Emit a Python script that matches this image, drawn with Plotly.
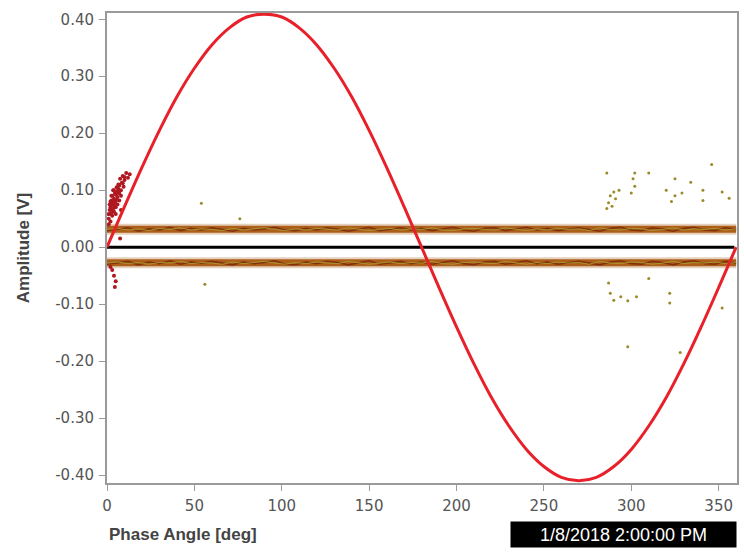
import plotly.graph_objects as go

# ---------------- data ----------------
sine_angle = [0, 10, 20, 30, 40, 50, 60, 70, 80, 90, 100, 110, 120, 130, 140, 150, 160, 170, 180,
              190, 200, 210, 220, 230, 240, 250, 260, 270, 280, 290, 300, 310, 320, 330, 340, 350, 360]
sine_amp = [0.000, 0.071, 0.140, 0.205, 0.264, 0.314, 0.355, 0.385, 0.404, 0.409, 0.404, 0.385, 0.355,
            0.314, 0.264, 0.205, 0.140, 0.071, 0.000, -0.071, -0.140, -0.205, -0.264, -0.314, -0.355,
            -0.385, -0.404, -0.410, -0.404, -0.385, -0.355, -0.314, -0.264, -0.205, -0.140, -0.071, 0.000]

band_span = [0, 360]
upper_band_level = [0.0315, 0.0315]
lower_band_level = [-0.0275, -0.0275]

band_angle = [0, 6, 12, 18, 24, 30, 36, 42, 48, 54, 60, 66, 72, 78, 84, 90, 96, 102, 108, 114,
              120, 126, 132, 138, 144, 150, 156, 162, 168, 174, 180, 186, 192, 198, 204, 210, 216,
              222, 228, 234, 240, 246, 252, 258, 264, 270, 276, 282, 288, 294, 300, 306, 312, 318,
              324, 330, 336, 342, 348, 354, 360]
upper_band_a = [0.031, 0.033, 0.030, 0.032, 0.029, 0.033, 0.031, 0.034, 0.030, 0.032,
                0.031, 0.029, 0.033, 0.030, 0.032, 0.034, 0.031, 0.029, 0.032, 0.030,
                0.033, 0.031, 0.030, 0.034, 0.032, 0.029, 0.031, 0.033, 0.030, 0.032,
                0.031, 0.034, 0.030, 0.029, 0.032, 0.033, 0.031, 0.030, 0.034, 0.031,
                0.029, 0.032, 0.030, 0.033, 0.031, 0.032, 0.029, 0.034, 0.031, 0.030,
                0.033, 0.032, 0.029, 0.031, 0.034, 0.030, 0.032, 0.031, 0.033, 0.030,
                0.032]
upper_band_b = [0.029, 0.031, 0.034, 0.028, 0.032, 0.030, 0.035, 0.029, 0.033, 0.030,
                0.034, 0.031, 0.028, 0.033, 0.030, 0.032, 0.035, 0.030, 0.029, 0.033,
                0.030, 0.034, 0.032, 0.028, 0.031, 0.035, 0.029, 0.032, 0.034, 0.030,
                0.033, 0.029, 0.032, 0.035, 0.030, 0.028, 0.033, 0.034, 0.029, 0.032,
                0.035, 0.030, 0.033, 0.029, 0.032, 0.034, 0.031, 0.028, 0.033, 0.035,
                0.030, 0.029, 0.034, 0.032, 0.028, 0.033, 0.035, 0.030, 0.029, 0.034,
                0.031]
lower_band_a = [-0.028, -0.026, -0.029, -0.027, -0.030, -0.027, -0.028, -0.025, -0.029, -0.027,
                -0.028, -0.030, -0.026, -0.029, -0.027, -0.025, -0.028, -0.030, -0.027, -0.029,
                -0.026, -0.028, -0.029, -0.025, -0.027, -0.030, -0.028, -0.026, -0.029, -0.027,
                -0.028, -0.025, -0.029, -0.030, -0.027, -0.026, -0.028, -0.029, -0.025, -0.028,
                -0.030, -0.027, -0.029, -0.026, -0.028, -0.027, -0.030, -0.025, -0.028, -0.029,
                -0.026, -0.027, -0.030, -0.028, -0.025, -0.029, -0.027, -0.028, -0.026, -0.029,
                -0.027]
lower_band_b = [-0.030, -0.027, -0.025, -0.031, -0.026, -0.029, -0.024, -0.030, -0.026, -0.028,
                -0.025, -0.028, -0.031, -0.026, -0.029, -0.027, -0.024, -0.030, -0.031, -0.026,
                -0.029, -0.025, -0.027, -0.031, -0.028, -0.024, -0.030, -0.027, -0.025, -0.029,
                -0.026, -0.030, -0.027, -0.024, -0.029, -0.031, -0.026, -0.025, -0.030, -0.027,
                -0.024, -0.029, -0.026, -0.030, -0.027, -0.025, -0.028, -0.031, -0.026, -0.024,
                -0.029, -0.030, -0.025, -0.027, -0.031, -0.026, -0.024, -0.029, -0.030, -0.025,
                -0.028]

red_angle = [1, 1.5, 2, 2, 2.5, 3, 3, 3.5, 4, 4, 4.5, 5, 5, 5.5, 6, 6, 6.5, 7, 7, 7.5, 8, 8.5, 9,
             9.5, 10, 11, 12, 13, 3, 2, 4, 8, 1, 5, 6.5, 3.5, 2.5, 7.5,
             1.5, 2.5, 3.5, 4.5, 5.5, 6.5, 2, 3, 4, 5, 6, 7, 8, 1, 9, 10,
             3, 4, 5, 4.5, 2]
red_amp = [0.050, 0.065, 0.070, 0.080, 0.060, 0.075, 0.090, 0.068, 0.085, 0.100, 0.078, 0.092,
           0.070, 0.105, 0.088, 0.075, 0.110, 0.095, 0.082, 0.120, 0.100, 0.113, 0.125, 0.106,
           0.118, 0.130, 0.122, 0.128, 0.055, 0.045, 0.062, 0.065, 0.040, 0.058, 0.095, 0.100,
           0.090, 0.015,
           0.075, 0.082, 0.080, 0.095, 0.083, 0.102, 0.058, 0.066, 0.073, 0.081, 0.098, 0.108,
           0.090, 0.058, 0.112, 0.123,
           -0.040, -0.050, -0.060, -0.070, -0.035]

olive_angle = [54, 56, 76, 286, 302, 310, 325, 346, 301, 302, 334, 290, 288, 291, 293, 287, 289,
               300, 320, 325, 329, 341, 341, 352, 356, 323, 286,
               287, 288, 290, 294, 298, 303, 310, 322, 322, 352, 298, 328]
olive_amp = [0.077, -0.065, 0.050, 0.130, 0.130, 0.130, 0.120, 0.145, 0.120, 0.107, 0.114, 0.097,
             0.090, 0.085, 0.100, 0.078, 0.072, 0.095, 0.100, 0.090, 0.095, 0.100, 0.082, 0.097,
             0.086, 0.080, 0.068,
             -0.063, -0.081, -0.093, -0.087, -0.094, -0.087, -0.055, -0.081, -0.098, -0.107,
             -0.175, -0.185]

x_ticks = [0, 50, 100, 150, 200, 250, 300, 350]
y_ticks = [-0.40, -0.30, -0.20, -0.10, 0.00, 0.10, 0.20, 0.30, 0.40]
x_title = "Phase Angle [deg]"
y_title = "Amplitude [V]"
timestamp = "1/8/2018 2:00:00 PM"

# ---------------- figure ----------------
fig = go.Figure()

for level, jag_a, jag_b in [(upper_band_level, upper_band_a, upper_band_b),
                            (lower_band_level, lower_band_a, lower_band_b)]:
    fig.add_trace(go.Scatter(x=band_span, y=level, mode="lines",
                             line=dict(color="rgba(170,100,40,0.30)", width=11), hoverinfo="skip"))
    fig.add_trace(go.Scatter(x=band_span, y=level, mode="lines",
                             line=dict(color="#ad5f1a", width=7), hoverinfo="skip"))
    fig.add_trace(go.Scatter(x=band_angle, y=jag_b, mode="lines",
                             line=dict(color="#84300f", width=1.6), hoverinfo="skip"))
    fig.add_trace(go.Scatter(x=band_angle, y=jag_a, mode="lines",
                             line=dict(color="#a6962e", width=1), hoverinfo="skip"))

fig.add_trace(go.Scatter(x=red_angle, y=red_amp, mode="markers",
                         marker=dict(color="#b01820", size=4)))
fig.add_trace(go.Scatter(x=olive_angle, y=olive_amp, mode="markers",
                         marker=dict(color="#9a8a2a", size=3)))

fig.add_trace(go.Scatter(x=[0, 359], y=[0, 0], mode="lines",
                         line=dict(color="black", width=3)))

fig.add_trace(go.Scatter(x=sine_angle, y=sine_amp, mode="lines",
                         line=dict(color="#e8202a", width=3, shape="spline")))

axis_common = dict(showgrid=False, zeroline=False, showline=True, linecolor="#9a9a9a",
                   linewidth=2, mirror=True, ticks="outside", ticklen=6, tickcolor="#9a9a9a",
                   ticklabelstandoff=2,
                   tickfont=dict(family="DejaVu Sans, Verdana, sans-serif", size=15,
                                 color="#555555"))

fig.update_xaxes(range=[0, 360.5], tickvals=x_ticks, ticktext=[str(v) for v in x_ticks],
                 **axis_common)
fig.update_yaxes(range=[-0.414, 0.411], tickvals=y_ticks,
                 ticktext=["%.2f" % v for v in y_ticks], **axis_common)

fig.add_annotation(text="<b>" + x_title + "</b>", xref="paper", yref="paper",
                   x=0.0, y=-0.1106, xanchor="left", yanchor="middle", showarrow=False,
                   font=dict(family="Liberation Sans, Arial, sans-serif", size=17,
                             color="#444444"))
fig.add_annotation(text="<b>" + y_title + "</b>", xref="paper", yref="paper",
                   x=-0.133, y=0.5, xanchor="center", yanchor="middle", textangle=-90,
                   showarrow=False,
                   font=dict(family="Liberation Sans, Arial, sans-serif", size=17,
                             color="#444444"))
fig.add_annotation(text=timestamp, xref="paper", yref="paper",
                   x=0.8204, y=-0.1096, xanchor="center", yanchor="middle", showarrow=False,
                   bgcolor="black", width=221, height=21, borderpad=2,
                   font=dict(family="Liberation Sans, Arial, sans-serif", size=18,
                             color="white"))

fig.update_layout(width=744, height=554, showlegend=False,
                  paper_bgcolor="white", plot_bgcolor="white",
                  margin=dict(l=107, r=5, t=13, b=71))

fig.write_html("out.html", config={"displayModeBar": False},
               post_script="document.body.style.margin='0';document.body.style.padding='0';")
